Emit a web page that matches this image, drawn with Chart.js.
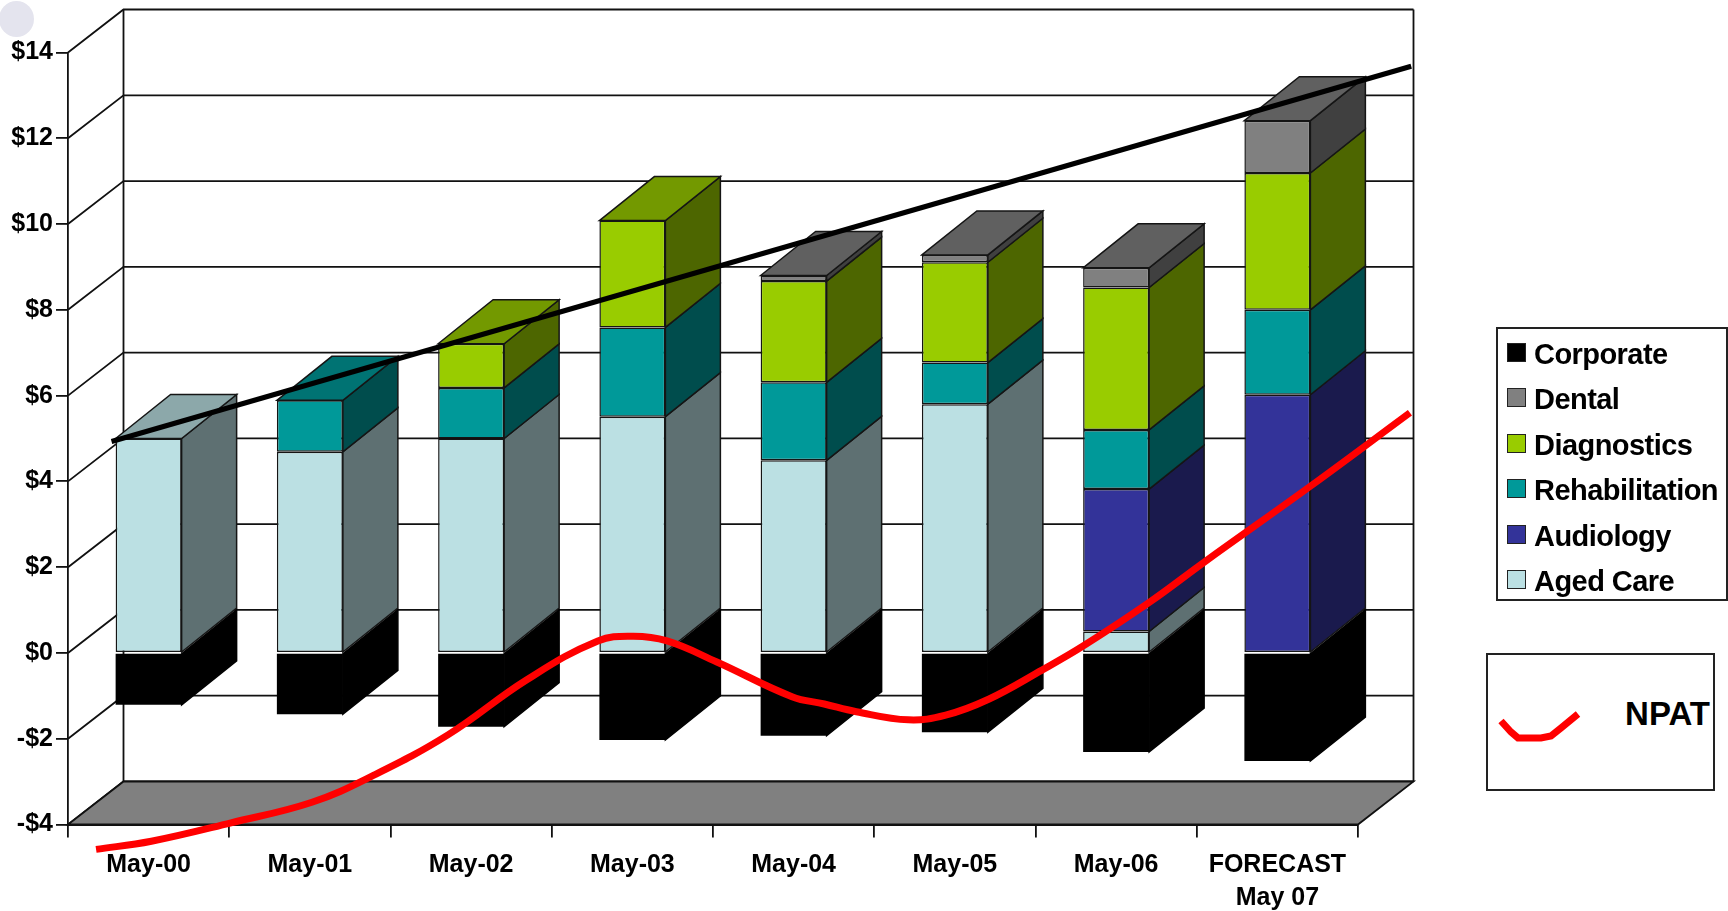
<!DOCTYPE html>
<html>
<head>
<meta charset="utf-8">
<title>Revenue by division</title>
<script src="https://cdn.jsdelivr.net/npm/chart.js@4/dist/chart.umd.min.js"></script>
<style>
    html, body { margin: 0; padding: 0; background: #fff; overflow: hidden; }
    #wrap { position: relative; width: 1728px; height: 911px; font-family: "Liberation Sans", Arial, sans-serif; color: #000; }
    canvas { position: absolute; left: 0; top: 0; }
    #spot { position: absolute; left: -1px; top: 1px; width: 35px; height: 36px; border-radius: 50%; background: #e4e4ee; }
    #legend { position: absolute; left: 1496px; top: 327px; width: 228px; height: 270px; border: 2px solid #222; background: #fff; }
    .row { position: absolute; left: 0; height: 45px; font-size: 29px; font-weight: bold; line-height: 45px; white-space: nowrap; }
    .key { position: absolute; left: 9px; top: 11px; width: 17px; height: 17px; border: 1px solid #222; }
    .name { position: absolute; left: 36px; top: 0; letter-spacing: -0.55px; }
    #npat { position: absolute; left: 1486px; top: 653px; width: 225px; height: 134px; border: 2px solid #222; background: #fff; }
    #npat span { position: absolute; right: 3px; top: 41px; font-size: 33px; font-weight: bold; line-height: 36px; }
    #npat svg { position: absolute; left: 0; top: 0; }
</style>
</head>
<body>
<div id="wrap">
    <canvas id="chart" width="1728" height="911"></canvas>
    <div id="spot"></div>
    <div id="legend"></div>
    <div id="npat">
        <svg width="225" height="134"><polyline points="13,66 23,77 30,83 35,83 53,83 63,81 73,73 90,59" fill="none" stroke="#ff0000" stroke-width="7"/></svg>
        <span>NPAT</span>
    </div>
</div>
<script>
const categories = ["May-00", "May-01", "May-02", "May-03", "May-04", "May-05", "May-06", ["FORECAST", "May 07"]];

const agedCare = [5.0, 4.69, 5.0, 5.51, 4.49, 5.8, 0.5, null];
const audiology = [null, null, null, null, null, null, 3.32, 6.02];
const rehabilitation = [null, 1.2, 1.18, 2.08, 1.82, 0.97, 1.38, 1.98];
const diagnostics = [null, null, 1.03, 2.49, 2.36, 2.34, 3.32, 3.19];
const dental = [null, null, null, null, 0.13, 0.17, 0.46, 1.22];
const corporate = [-1.21, -1.43, -1.72, -2.03, -1.93, -1.85, -2.31, -2.52];

// NPAT curve and trend line sit over the chart, x is in category index units
const npatX = [-0.326, 0.017, 0.511, 1.013, 1.391, 1.856, 2.343, 2.786, 3.006, 3.215, 3.524, 3.99, 4.19, 4.389, 4.711, 4.943, 5.209, 5.54, 5.795, 6.21, 6.551, 7.202, 7.822];
const npatY = [-4.58, -4.39, -3.96, -3.48, -2.86, -1.91, -0.63, 0.28, 0.39, 0.28, -0.21, -1.02, -1.19, -1.37, -1.56, -1.45, -1.08, -0.4, 0.16, 1.19, 2.13, 3.88, 5.6];
const trendX = [-0.23, 7.83];
const trendY = [4.93, 13.68];

const WALL_DX = 55.5;
const WALL_DY = -43;
const BAR_DX = 55;
const BAR_DY = -44;

function xy(xs, ys) {
    return xs.map((x, i) => ({ x: x, y: ys[i] }));
}

function shade(hex, f) {
    const n = parseInt(hex.slice(1), 16);
    const r = Math.round((n >> 16) * f);
    const g = Math.round(((n >> 8) & 255) * f);
    const b = Math.round((n & 255) * f);
    return `rgb(${r}, ${g}, ${b})`;
}

function barSet(label, data, color) {
    const isBlack = color === "#000000";
    return {
        type: "bar",
        label: label,
        data: data,
        backgroundColor: color,
        borderColor: isBlack ? "#000000" : "#151515",
        // a border on the black bars only leaves a light seam
        borderWidth: isBlack ? 0 : 1.5,
        borderSkipped: false,
        // not grouped: the hidden line axis must not push the bars off centre
        grouped: false,
        barPercentage: 1,
        maxBarThickness: 66,
        xAxisID: "x",
        yAxisID: "y",
        order: 2
    };
}

function fillPoly(ctx, pts, fill) {
    ctx.beginPath();
    pts.forEach((p, i) => {
        if (i === 0) ctx.moveTo(p[0], p[1]);
        else ctx.lineTo(p[0], p[1]);
    });
    ctx.closePath();
    ctx.fillStyle = fill;
    ctx.fill();
    ctx.stroke();
}

// back walls, floor and the depth faces of the bars
const depthPlugin = {
    id: "depth",
    beforeDatasetsDraw(chart) {
        const ctx = chart.ctx;
        const area = chart.chartArea;
        const yScale = chart.scales.y;
        ctx.save();
        ctx.strokeStyle = "#111";
        ctx.lineWidth = 1.8;

        yScale.ticks.forEach(t => {
            const y = yScale.getPixelForValue(t.value);
            ctx.beginPath();
            ctx.moveTo(area.left, y);
            ctx.lineTo(area.left + WALL_DX, y + WALL_DY);
            ctx.lineTo(area.right + WALL_DX, y + WALL_DY);
            ctx.stroke();
        });

        ctx.beginPath();
        ctx.moveTo(area.left + WALL_DX, area.top + WALL_DY);
        ctx.lineTo(area.left + WALL_DX, area.bottom + WALL_DY);
        ctx.moveTo(area.right + WALL_DX, area.top + WALL_DY);
        ctx.lineTo(area.right + WALL_DX, area.bottom + WALL_DY);
        ctx.stroke();

        fillPoly(ctx, [
            [area.left, area.bottom],
            [area.right, area.bottom],
            [area.right + WALL_DX, area.bottom + WALL_DY],
            [area.left + WALL_DX, area.bottom + WALL_DY]
        ], "#808080");

        ctx.lineWidth = 1.5;
        chart.data.datasets.forEach((ds, di) => {
            if (ds.type !== "bar") return;
            const meta = chart.getDatasetMeta(di);
            meta.data.forEach((el, i) => {
                if (ds.data[i] === null) return;
                const right = el.x + el.width / 2;
                const left = el.x - el.width / 2;
                const top = Math.min(el.y, el.base);
                const bottom = Math.max(el.y, el.base);
                ctx.strokeStyle = ds.borderColor;
                fillPoly(ctx, [
                    [right, top],
                    [right + BAR_DX, top + BAR_DY],
                    [right + BAR_DX, bottom + BAR_DY],
                    [right, bottom]
                ], ds.backgroundColor === "#000000" ? "#000000" : shade(ds.backgroundColor, 0.5));
                // only the last positive segment of a stack shows its top
                const above = chart.data.datasets.slice(di + 1).some(o => o.type === "bar" && o.data[i] > 0);
                if (ds.data[i] > 0 && !above) {
                    fillPoly(ctx, [
                        [left, top],
                        [left + BAR_DX, top + BAR_DY],
                        [right + BAR_DX, top + BAR_DY],
                        [right, top]
                    ], shade(ds.backgroundColor, 0.75));
                }
            });
        });
        ctx.restore();
    }
};

const tickFont = { family: "'Liberation Sans', Arial, sans-serif", size: 25, weight: "bold", lineHeight: 1.32 };

new Chart(document.getElementById("chart").getContext("2d"), {
    data: {
        labels: categories,
        datasets: [
            barSet("Aged Care", agedCare, "#BBE0E3"),
            barSet("Audiology", audiology, "#333399"),
            barSet("Rehabilitation", rehabilitation, "#009999"),
            barSet("Diagnostics", diagnostics, "#99CC00"),
            barSet("Dental", dental, "#808080"),
            barSet("Corporate", corporate, "#000000"),
            {
                type: "line",
                label: "Trend",
                data: xy(trendX, trendY),
                borderColor: "#000",
                borderWidth: 5,
                pointRadius: 0,
                clip: false,
                stack: "trend",
                xAxisID: "xLine",
                yAxisID: "y",
                order: 1
            },
            {
                type: "line",
                label: "NPAT",
                data: xy(npatX, npatY),
                borderColor: "#ff0000",
                borderWidth: 7,
                pointRadius: 0,
                tension: 0.4,
                clip: false,
                stack: "npat",
                xAxisID: "xLine",
                yAxisID: "y",
                order: 0
            }
        ]
    },
    options: {
        responsive: false,
        animation: false,
        layout: { padding: { left: 0, top: 52.5, right: 370, bottom: 0 } },
        plugins: {
            legend: { display: false },
            title: { display: false },
            tooltip: { enabled: false }
        },
        scales: {
            x: {
                type: "category",
                stacked: true,
                afterFit: s => { s.height = 86.5; },
                grid: { offset: true, drawOnChartArea: false, drawTicks: true, tickLength: 13, color: "#111", lineWidth: 1.8 },
                border: { color: "#111", width: 2 },
                ticks: { color: "#000", font: tickFont, padding: 11, maxRotation: 0, autoSkip: false }
            },
            xLine: { type: "linear", display: false, min: -0.5, max: 7.5 },
            y: {
                type: "linear",
                stacked: true,
                min: -4,
                max: 14,
                afterFit: s => { s.width = 68; },
                grid: { drawOnChartArea: false, drawTicks: true, tickLength: 12, color: "#111", lineWidth: 1.8 },
                border: { color: "#111", width: 1.8 },
                ticks: {
                    color: "#000",
                    font: tickFont,
                    padding: 3,
                    stepSize: 2,
                    callback: v => (v < 0 ? "-$" + Math.abs(v) : "$" + v)
                }
            }
        }
    },
    plugins: [depthPlugin]
});

// legend rows run top-down, opposite of the stacking order
const legendRows = [
    ["Corporate", "#000000"],
    ["Dental", "#808080"],
    ["Diagnostics", "#99CC00"],
    ["Rehabilitation", "#009999"],
    ["Audiology", "#333399"],
    ["Aged Care", "#BBE0E3"]
];
const legendBox = document.getElementById("legend");
legendRows.forEach((row, i) => {
    const div = document.createElement("div");
    div.className = "row";
    div.style.top = (3 + i * 45.4) + "px";
    div.innerHTML = `<span class="key" style="background:${row[1]}"></span><span class="name">${row[0]}</span>`;
    legendBox.appendChild(div);
});
</script>
</body>
</html>
